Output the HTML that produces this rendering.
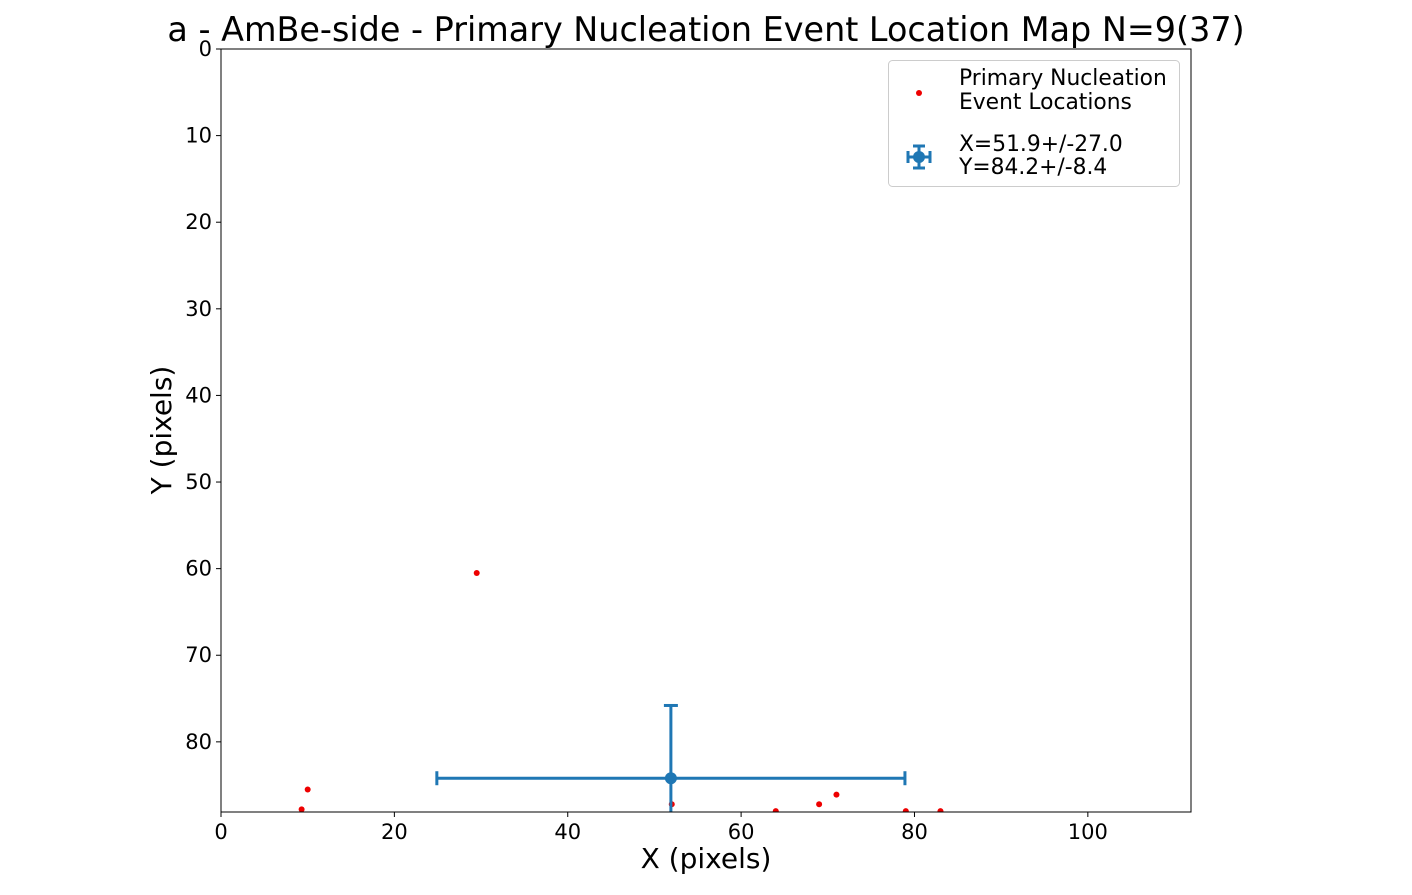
<!DOCTYPE html>
<html><head><meta charset="utf-8"><style>
body{margin:0;background:#fff;}
svg text{font-family:"DejaVu Sans","Liberation Sans",sans-serif;}
</style></head><body>
<svg id="chart" width="1412" height="890" viewBox="0 0 1412 890" xmlns="http://www.w3.org/2000/svg">
<rect width="1412" height="890" fill="#fff"/>
<text x="706" y="41" font-size="33.4" text-anchor="middle">a - AmBe-side - Primary Nucleation Event Location Map N=9(37)</text>
<g id="plot"></g>
<text x="706" y="868" font-size="28" text-anchor="middle">X (pixels)</text>
<text transform="translate(171,430) rotate(-90)" font-size="28" text-anchor="middle">Y (pixels)</text>
<g>
<rect x="888.5" y="60.5" width="291" height="126" rx="4" fill="#fff" stroke="#ccc"/>
<circle cx="919" cy="93" r="3" fill="#e00"/>
<text x="959" y="85" font-size="21.8">Primary Nucleation</text>
<text x="959" y="109" font-size="21.8">Event Locations</text>
<g stroke="#1f77b4" stroke-width="3" fill="none">
<line x1="908" y1="157" x2="930" y2="157"/><line x1="919" y1="146" x2="919" y2="168"/>
<line x1="908" y1="151" x2="908" y2="163"/><line x1="930" y1="151" x2="930" y2="163"/>
<line x1="913" y1="146" x2="925" y2="146"/><line x1="913" y1="168" x2="925" y2="168"/>
</g>
<circle cx="919" cy="157" r="6" fill="#1f77b4"/>
<text x="959" y="151" font-size="21.8">X=51.9+/-27.0</text>
<text x="959" y="174" font-size="21.8">Y=84.2+/-8.4</text>
</g>
</svg>
<script>
const xs=[9.3,10.0,29.5,52.0,64.0,69.0,71.0,79.0,83.0];
const ys=[87.8,85.5,60.5,87.2,88.0,87.2,86.1,88.0,88.0];
const meanX=[51.9], meanY=[84.2], errX=[27.0], errY=[8.4];
const xTicks=[0,20,40,60,80,100];
const yTicks=[0,10,20,30,40,50,60,70,80];
const L=221,R=1191,T=49,B=812,XMAX=111.9,YMAX=88.1;
const sx=v=>L+(v/XMAX)*(R-L);
const sy=v=>T+(v/YMAX)*(B-T);
const NS="http://www.w3.org/2000/svg";
const g=document.getElementById('plot');
function mk(t,a,p){const e=document.createElementNS(NS,t);for(const k in a)e.setAttribute(k,a[k]);(p||g).appendChild(e);return e;}
const defs=mk('defs',{});const cp=mk('clipPath',{id:'c'},defs);mk('rect',{x:L,y:T,width:R-L,height:B-T},cp);
const data=mk('g',{'clip-path':'url(#c)'});
xs.forEach((x,i)=>{const c=mk('circle',{cx:sx(x),cy:sy(ys[i]),r:3,fill:'#e00'},data);

});
const eb=mk('g',{stroke:'#1f77b4','stroke-width':3,fill:'none'},data);


const mx=meanX[0],my=meanY[0],ex=errX[0],ey=errY[0];
mk('line',{x1:sx(mx-ex),y1:sy(my),x2:sx(mx+ex),y2:sy(my)},eb);
mk('line',{x1:sx(mx),y1:sy(my-ey),x2:sx(mx),y2:sy(my+ey)},eb);
mk('line',{x1:sx(mx-ex),y1:sy(my)-7,x2:sx(mx-ex),y2:sy(my)+7},eb);
mk('line',{x1:sx(mx+ex),y1:sy(my)-7,x2:sx(mx+ex),y2:sy(my)+7},eb);
mk('line',{x1:sx(mx)-7,y1:sy(my-ey),x2:sx(mx)+7,y2:sy(my-ey)},eb);
mk('line',{x1:sx(mx)-7,y1:sy(my+ey),x2:sx(mx)+7,y2:sy(my+ey)},eb);
const mp=mk('circle',{cx:sx(mx),cy:sy(my),r:6,fill:'#1f77b4'},data);


const fr=mk('rect',{x:L,y:T,width:R-L,height:B-T,fill:'none',stroke:'#000','stroke-width':1});


xTicks.forEach(v=>{mk('line',{x1:sx(v),y1:B,x2:sx(v),y2:B+5,stroke:'#000'});
const t=mk('text',{x:sx(v),y:B+27,'font-size':21,'text-anchor':'middle'});t.textContent=v;

});
yTicks.forEach(v=>{mk('line',{x1:L-5,y1:sy(v),x2:L,y2:sy(v),stroke:'#000'});
const t=mk('text',{x:L-9,y:sy(v)+7,'font-size':21,'text-anchor':'end'});t.textContent=v;

});
</script>
</body></html>
